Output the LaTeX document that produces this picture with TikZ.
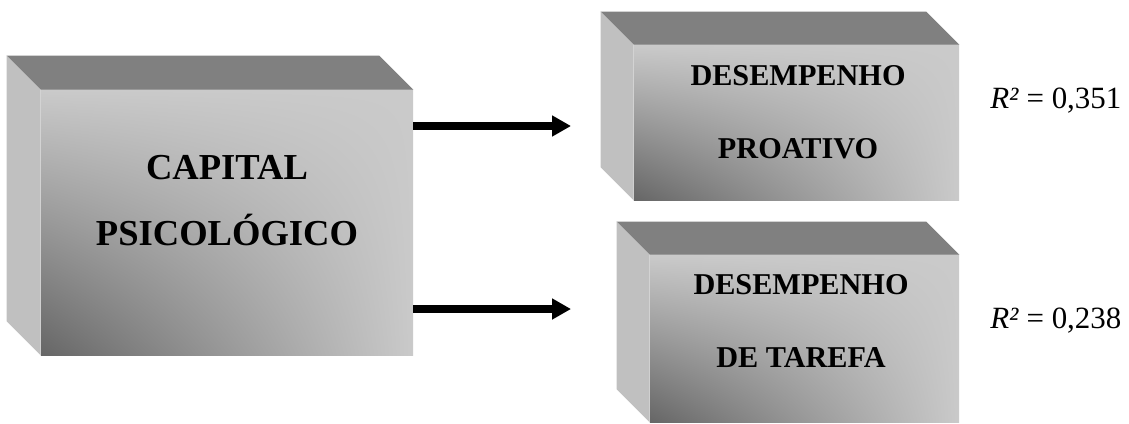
\documentclass[tikz,border=0pt]{standalone}
\usepackage{fontspec}
\setmainfont{Liberation Serif}
\usepackage{tikz}
\usetikzlibrary{arrows.meta, positioning, calc, shadings}
\definecolor{boxlight}{HTML}{CACACA}
\definecolor{boxdark}{HTML}{666666}
\definecolor{boxtop}{HTML}{808080}
\definecolor{boxside}{HTML}{C0C0C0}
\tikzset{
  face/.style={rectangle, inner sep=0pt, shade,
               upper left=boxlight, upper right=boxlight,
               lower right=boxlight, lower left=boxdark},
  bigface/.style={face, minimum width=9.3cm, minimum height=6.625cm},
  topface/.style={fill=boxtop},
  sideface/.style={fill=boxside},
  boxtxt/.style={align=center, font=\bfseries},
  rsq/.style={anchor=base west, inner sep=0pt, font=\fontsize{22}{24}\selectfont},
  arr/.style={-{Triangle[length=0.475cm, width=0.5cm]}, line width=5pt},
}

\begin{document}
\begin{tikzpicture}[x=0.025cm, y=-0.025cm]
  \useasboundingbox (0,0) rectangle (1129,423);

  % front faces
  \node[bigface] (cap) at (227,222.5) {};
  \node[face, minimum width=8.125cm, minimum height=3.875cm] (pro) at (796.5,122.5) {};
  \node[face, minimum width=7.725cm, minimum height=4.175cm] (tar) at (804.5,338.5) {};

  % top and left faces
  \foreach \b/\d in {cap/34, pro/33, tar/33} {
    \fill[topface] (\b.north west) -- ++(-\d,-\d)
      -- ([shift={(-\d,-\d)}]\b.north east) -- (\b.north east) -- cycle;
    \fill[sideface] (\b.north west) -- ++(-\d,-\d)
      -- ([shift={(-\d,-\d)}]\b.south west) -- (\b.south west) -- cycle;
  }

  % labels
  \node[boxtxt, font=\bfseries\fontsize{26}{47}\selectfont] (captxt) at (227,201)
    {CAPITAL\\PSICOLÓGICO};
  \node[boxtxt, font=\bfseries\fontsize{21.5}{52}\selectfont] (protxt) at (798,112)
    {DESEMPENHO\\PROATIVO};
  \node[boxtxt, font=\bfseries\fontsize{21.5}{52}\selectfont] (tartxt) at (801,321)
    {DESEMPENHO\\DE TAREFA};

  \node[rsq] (r1) at (990,108) {\textit{R²} = 0,351};
  \node[rsq] (r2) at (990,328) {\textit{R²} = 0,238};

  % arrows
  \coordinate (p1) at (571,126);
  \coordinate (p2) at (571,309);
  \draw[arr] (cap.east |- p1) -- (p1);
  \draw[arr] (cap.east |- p2) -- (p2);

\end{tikzpicture}
\end{document}
